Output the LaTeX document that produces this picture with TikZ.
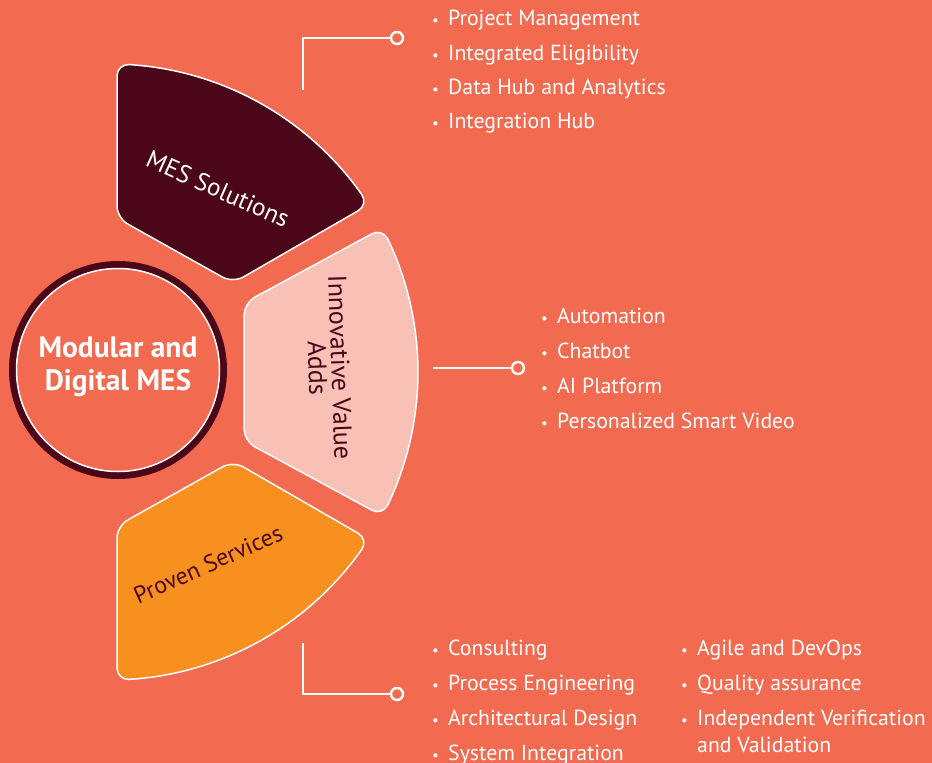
\documentclass[tikz,border=0pt]{standalone}
\usepackage{fontspec}
\setmainfont{PT Sans}
\usetikzlibrary{calc}
\definecolor{bg}{HTML}{F26B51}
\definecolor{maroon}{HTML}{4B0619}
\definecolor{pinkfill}{HTML}{F9C1B6}
\definecolor{orangefill}{HTML}{F7901F}
\newcommand\blt{{\fontsize{15}{15}\selectfont •}}
\begin{document}
\begin{tikzpicture}[x=1pt,y=-1pt,
  sector/.style={draw=white, line width=1.5pt, line join=round},
  item/.style={anchor=base west, inner sep=0pt, text=white, font=\fontsize{21.8}{27}\selectfont, align=left},
  dot/.style={circle, draw=white, line width=2.4pt, fill=bg, minimum size=12pt, inner sep=0pt},
  conn/.style={draw=white, line width=2.2pt},
  sectorlabel/.style={inner sep=0pt, align=center}]
\fill[bg] (0,0) rectangle (932,763);
\useasboundingbox (0,0) rectangle (932,763);

% MES Solutions sector
\coordinate (m1) at (117,64);
\coordinate (m2) at (368.6,204.7);
\coordinate (m3) at (233,283);
\coordinate (m4) at (117,218);
\draw[sector, fill=maroon]
 (128.96,64.58) arc[start angle=-86.47, end angle=-35.13, radius=308]
 .. controls ($(361.9,194.8)!0.55!(m2)$) and ($(m2)!5.4pt!(m3)$) .. ($(m2)!12pt!(m3)$)
 -- ($(m3)!12pt!(m2)$) .. controls ($(m3)!5.4pt!(m2)$) and ($(m3)!5.4pt!(m4)$) .. ($(m3)!12pt!(m4)$)
 -- ($(m4)!12pt!(m3)$) .. controls ($(m4)!5.4pt!(m3)$) and ($(m4)!5.4pt!(m1)$) .. ($(m4)!12pt!(m1)$)
 -- ($(m1)!12pt!(m4)$) .. controls ($(m1)!5.4pt!(m4)$) and ($(128.96,64.58)!0.55!(m1)$) .. (128.96,64.58)
 -- cycle;

% Innovative Value Adds sector
\coordinate (n1) at (244,303);
\coordinate (n2) at (382.4,228.1);
\coordinate (n3) at (382.4,515.9);
\coordinate (n4) at (244,441);
\draw[sector, fill=pinkfill]
 ($(n1)!12pt!(n4)$) .. controls ($(n1)!5.4pt!(n4)$) and ($(n1)!5.4pt!(n2)$) .. ($(n1)!12pt!(n2)$)
 -- ($(n2)!12pt!(n1)$) .. controls ($(n2)!5.4pt!(n1)$) and ($(387.7,238.8)!0.55!(n2)$) .. (387.7,238.8)
 arc[start angle=-25.62, end angle=25.62, radius=308]
 .. controls ($(387.7,505.2)!0.55!(n3)$) and ($(n3)!5.4pt!(n4)$) .. ($(n3)!12pt!(n4)$)
 -- ($(n4)!12pt!(n3)$) .. controls ($(n4)!5.4pt!(n3)$) and ($(n4)!5.4pt!(n1)$) .. ($(n4)!12pt!(n1)$)
 -- cycle;

% Proven Services sector
\coordinate (p1) at (117,680);
\coordinate (p2) at (368.6,539.3);
\coordinate (p3) at (233,461);
\coordinate (p4) at (117,526);
\draw[sector, fill=orangefill]
 ($(p4)!12pt!(p1)$) .. controls ($(p4)!5.4pt!(p1)$) and ($(p4)!5.4pt!(p3)$) .. ($(p4)!12pt!(p3)$)
 -- ($(p3)!12pt!(p4)$) .. controls ($(p3)!5.4pt!(p4)$) and ($(p3)!5.4pt!(p2)$) .. ($(p3)!12pt!(p2)$)
 -- ($(p2)!12pt!(p3)$) .. controls ($(p2)!5.4pt!(p3)$) and ($(361.9,549.2)!0.55!(p2)$) .. (361.9,549.2)
 arc[start angle=35.13, end angle=86.47, radius=308]
 .. controls ($(128.96,679.42)!0.55!(p1)$) and ($(p1)!5.4pt!(p4)$) .. ($(p1)!12pt!(p4)$)
 -- cycle;

% hub
\draw[maroon, line width=7pt] (118,370) circle[radius=105.5];
\node[circle, draw=white, line width=1.5pt, minimum size=203pt, inner sep=0pt] (hub) at (118,370) {};
\node[text=white, font=\fontsize{29.5}{33}\selectfont\bfseries, align=center, inner sep=0pt] (hubtext) at (118,366.5) {Modular and\\Digital MES};

% sector labels
\node[sectorlabel, text=maroon, rotate=-88, font=\fontsize{26}{23}\selectfont] (l2) at (329,368) {Innovative Value\\Adds};
\node[sectorlabel, text=white, rotate=-24, font=\fontsize{25}{28}\selectfont] (l1) at (218,189) {MES Solutions};
\node[sectorlabel, text=maroon, rotate=24, font=\fontsize{24}{28}\selectfont] (l3) at (208,564) {Proven Services};

% connectors
\coordinate (ct) at (303,90);
\node[dot] (dt) at (397,38) {};
\draw[conn] (ct) |- (dt);
\coordinate (cm) at (433,368);
\node[dot] (dm) at (518,368) {};
\draw[conn] (cm) -- (dm);
\coordinate (cb) at (303,643);
\node[dot] (db) at (397,694) {};
\draw[conn] (cb) |- (db);

% top list
\node[item] (a1) at (432,25) {\makebox[16pt][l]{\blt}Project Management};
\node[item] (a2) at (432,60) {\makebox[16pt][l]{\blt}Integrated Eligibility};
\node[item] (a3) at (432,94) {\makebox[16pt][l]{\blt}Data Hub and Analytics};
\node[item] (a4) at (432,128) {\makebox[16pt][l]{\blt}Integration Hub};

% middle list
\node[item] (b1) at (541,323) {\makebox[16pt][l]{\blt}Automation};
\node[item] (b2) at (541,358) {\makebox[16pt][l]{\blt}Chatbot};
\node[item] (b3) at (541,393) {\makebox[16pt][l]{\blt}AI Platform};
\node[item] (b4) at (541,428) {\makebox[16pt][l]{\blt}Personalized Smart Video};

% bottom lists
\node[item] (c1) at (432,655) {\makebox[16pt][l]{\blt}Consulting};
\node[item] (c2) at (432,690) {\makebox[16pt][l]{\blt}Process Engineering};
\node[item] (c3) at (432,725) {\makebox[16pt][l]{\blt}Architectural Design};
\node[item] (c4) at (432,760) {\makebox[16pt][l]{\blt}System Integration};
\node[item] (e1) at (681,655) {\makebox[16pt][l]{\blt}Agile and DevOps};
\node[item] (e2) at (681,690) {\makebox[16pt][l]{\blt}Quality assurance};
\node[item] (e3) at (681,752) {\makebox[16pt][l]{\blt}Independent Verification\\\hspace*{16pt}and Validation};
\end{tikzpicture}
\end{document}
